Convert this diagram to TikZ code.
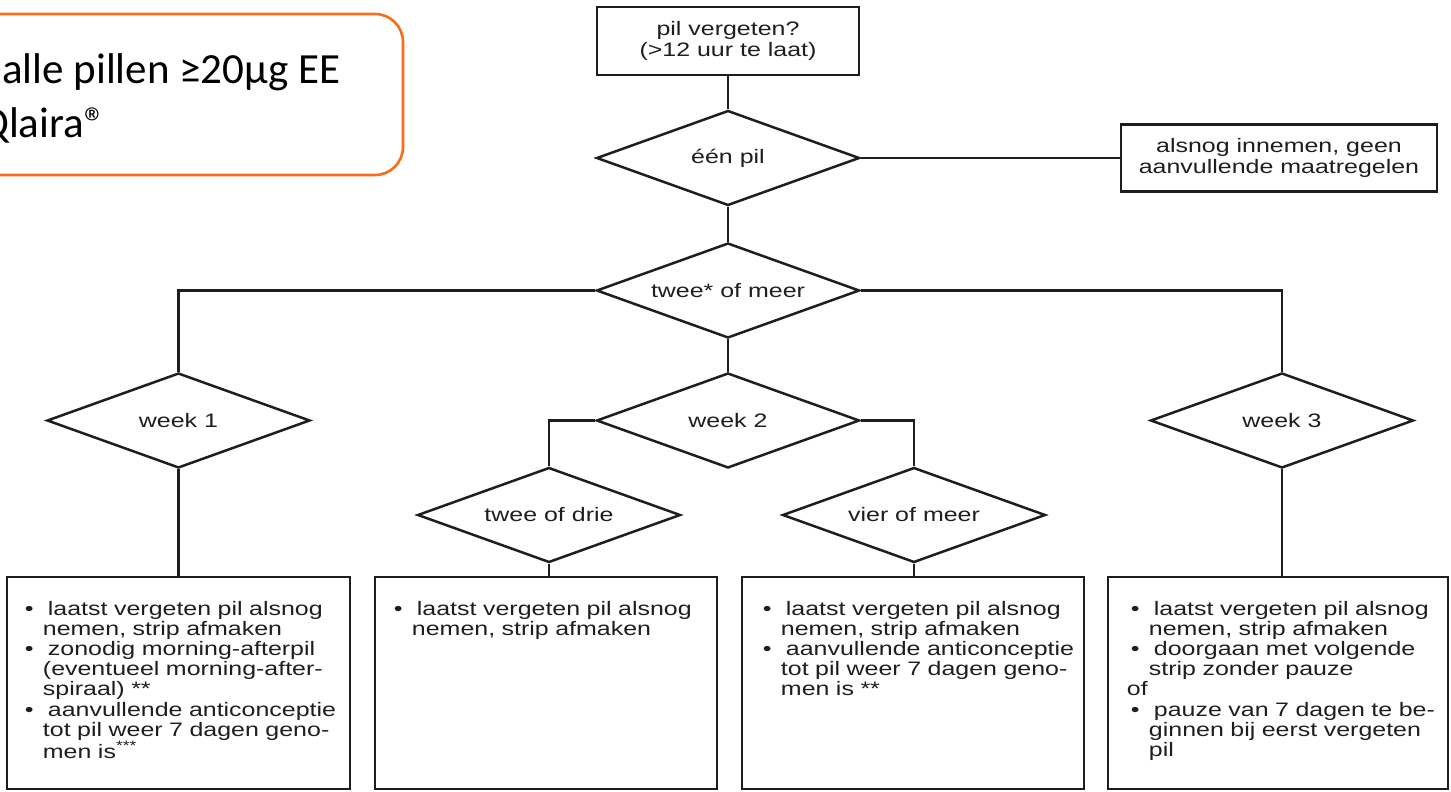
\documentclass[tikz,border=0pt]{standalone}
\usepackage{fontspec}
\setmainfont{Liberation Sans}
\newfontfamily\chartfont[FakeStretch=1.28]{Liberation Sans}
\newfontfamily\slidefont{Carlito}
\usetikzlibrary{shapes.geometric}
\definecolor{inkgray}{RGB}{30,30,30}
\definecolor{slideorange}{RGB}{250,108,22}
\newcommand\chartsize{\chartfont\fontsize{19.5pt}{20.2pt}\selectfont}
% bullet hangs into the left margin of the advice text
\newcommand\punt{\par\noindent\hspace*{-18pt}\makebox[23pt][l]{\textbullet}}
\tikzset{
  keuze/.style={diamond, draw=inkgray, line width=2.5pt, minimum width=263pt,
    minimum height=95pt, shape aspect=2.77, inner sep=0pt, text=inkgray, font=\chartsize},
  vraag/.style={rectangle, draw=inkgray, line width=2.5pt, inner sep=0pt,
    align=center, text=inkgray, font=\chartfont\fontsize{19.5pt}{21.5pt}\selectfont},
  advies/.style={rectangle, draw=inkgray, line width=2.5pt, minimum height=212pt, inner sep=0pt},
  adviestekst/.style={anchor=north west, inner sep=0pt, text width=310pt, align=left,
    text=inkgray, font=\chartsize},
  verbind/.style={draw=inkgray, line width=2.5pt},
  slidetekst/.style={anchor=base west, inner sep=0pt, font=\slidefont\fontsize{43pt}{52pt}\selectfont}
}

\begin{document}
\begin{tikzpicture}[x=1pt,y=-1pt]
  \useasboundingbox (0,0) rectangle (1451,792);
  \clip (0,0) rectangle (1451,792);

  % Slide label, cut off at the left edge
  \draw[slideorange, line width=2.6pt, rounded corners=28pt] (-40,14) rectangle (403,175);
  \node[slidetekst] (regel1) at (2,83) {alle pillen ≥20µg EE};
  \node[slidetekst] (regel2) at (-20,137) {Qlaira®};

  % Question and first split
  \node[vraag, minimum width=262pt, minimum height=68pt] (start) at (728,41) {pil vergeten?\\(>12 uur te laat)};
  \node[keuze] (een) at (728,158) {één pil};
  \node[vraag, minimum width=316pt, minimum height=67pt] (alsnog) at (1279,158) {alsnog innemen, geen\\aanvullende maatregelen};
  \node[keuze] (twee) at (728,290.5) {twee* of meer};

  % Weeks
  \node[keuze] (week1) at (178.5,420.5) {week 1};
  \node[keuze] (week2) at (728,420.5) {week 2};
  \node[keuze] (week3) at (1282,420.5) {week 3};
  \node[keuze] (drie) at (549,515) {twee of drie};
  \node[keuze] (vier) at (914,515) {vier of meer};

  % Advice boxes
  \node[advies, minimum width=343pt] (advies1) at (178.5,683) {};
  \node[advies, minimum width=342pt] (advies2) at (546,683) {};
  \node[advies, minimum width=342pt] (advies3) at (913,683) {};
  \node[advies, minimum width=340pt] (advies4) at (1278,683) {};

  \node[adviestekst] (tekst1) at ([xshift=37pt,yshift=-19pt]advies1.north west)
    {\leftskip=0pt
     \punt laatst vergeten pil alsnog\\nemen, strip afmaken
     \punt zonodig morning-afterpil\\(eventueel morning-after-\\spiraal) **
     \punt aanvullende anticonceptie\\tot pil weer 7 dagen geno-\\men is\textsuperscript{***}};
  \node[adviestekst] (tekst2) at ([xshift=38pt,yshift=-19pt]advies2.north west)
    {\punt laatst vergeten pil alsnog\\nemen, strip afmaken};
  \node[adviestekst] (tekst3) at ([xshift=40pt,yshift=-19pt]advies3.north west)
    {\punt laatst vergeten pil alsnog\\nemen, strip afmaken
     \punt aanvullende anticonceptie\\tot pil weer 7 dagen geno-\\men is **};
  \node[adviestekst] (tekst4) at ([xshift=42pt,yshift=-19pt]advies4.north west)
    {\punt laatst vergeten pil alsnog\\nemen, strip afmaken
     \punt doorgaan met volgende\\strip zonder pauze
     \par\noindent\hspace*{-22pt}of
     \punt pauze van 7 dagen te be-\\ginnen bij eerst vergeten\\pil};

  % Connectors
  \draw[verbind] (start) -- (een);
  \draw[verbind] (een.east) -- (een.east -| alsnog.west);
  \draw[verbind] (een) -- (twee);
  \draw[verbind] (twee.west) -| (week1.north);
  \draw[verbind] (twee.east) -| (week3.north);
  \draw[verbind] (twee) -- (week2);
  \draw[verbind] (week2.west) -| (drie.north);
  \draw[verbind] (week2.east) -| (vier.north);
  \draw[verbind] (week1) -- (advies1);
  \draw[verbind] (drie.south) -- (drie.south |- advies2.north);
  \draw[verbind] (vier.south) -- (vier.south |- advies3.north);
  \draw[verbind] (week3.south) -- (week3.south |- advies4.north);
\end{tikzpicture}
\end{document}
